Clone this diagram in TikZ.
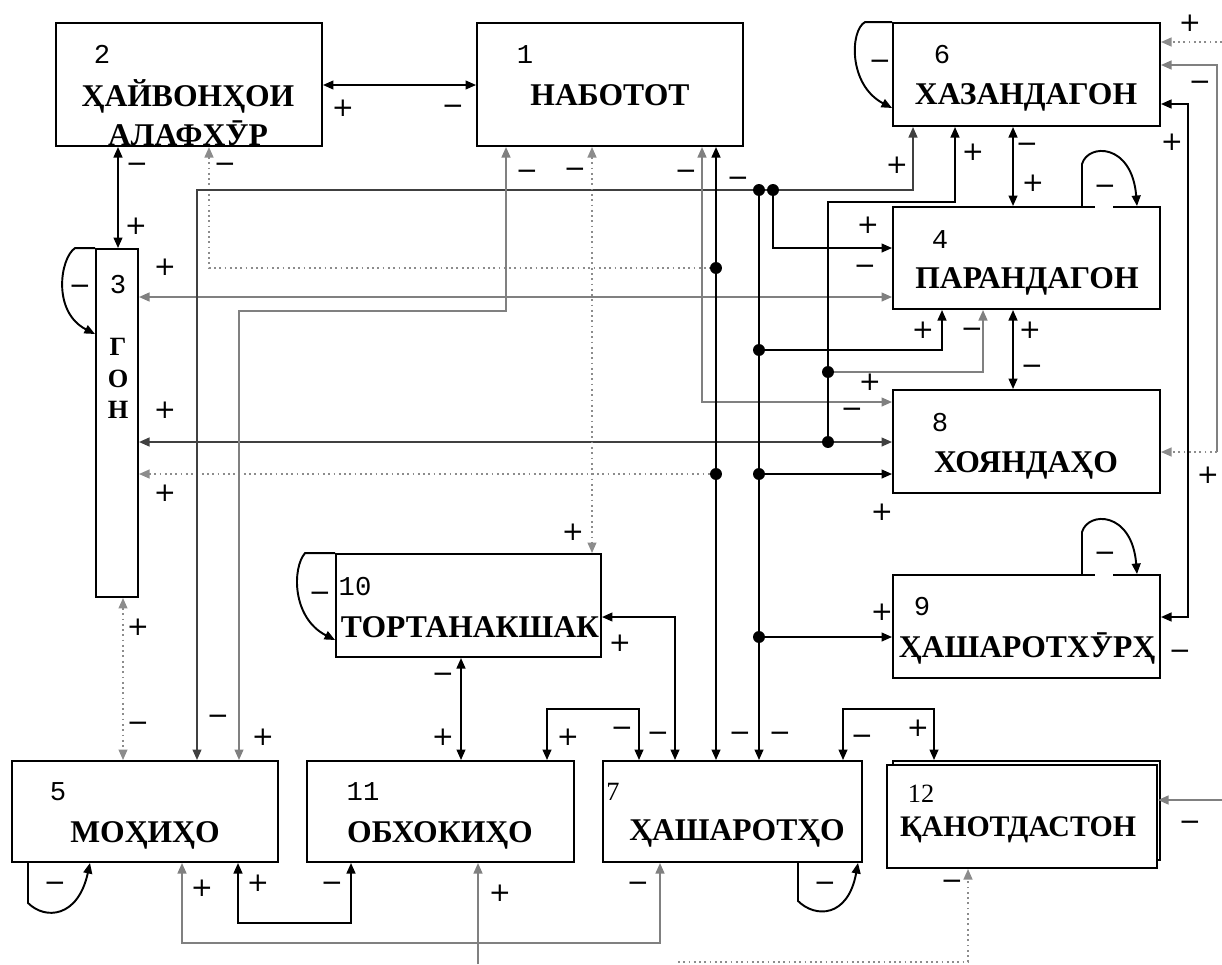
\documentclass[tikz,border=0pt]{standalone}
\usepackage{fontspec}
\setmainfont{Liberation Serif}
\newfontfamily\numfont{Liberation Mono}
\newfontfamily\sgnfont{DejaVu Sans}
\usetikzlibrary{arrows.meta}

\begin{document}
\begin{tikzpicture}[x=0.02cm, y=-0.02cm, >={Triangle[length=6pt,width=5pt]},
    box/.style={draw, line width=1.1pt, fill=white, inner sep=0pt, minimum width=5.32cm, minimum height=2.04cm},
    ttl/.style={font=\bfseries\fontsize{18}{20}\selectfont, anchor=base, inner sep=0pt},
    num/.style={font=\numfont\fontsize{15.5}{16}\selectfont, anchor=base, inner sep=0pt},
    sgn/.style={font=\sgnfont\fontsize{15}{15}\selectfont, inner sep=0pt},
    ln/.style={line width=1.1pt},
    gry/.style={draw=black!50},
    dotl/.style={draw=black!45, dotted, line width=1pt}]
    \useasboundingbox (0,0) rectangle (1222,964);

    % Блокҳо
    \node[box, minimum height=2.46cm] (b2) at (189,84.5) {};
    \node[box, minimum height=2.46cm] (b1) at (610,84.5) {};
    \node[box, minimum width=5.34cm, minimum height=2.06cm] (b6) at (1026.5,74.5) {};
    \node[box, minimum width=5.34cm] (b4) at (1026.5,258) {};
    \node[box, minimum width=5.34cm, minimum height=2.06cm] (b8) at (1026.5,441.5) {};
    \node[box, minimum width=5.34cm, minimum height=2.06cm] (b9) at (1026.5,626.5) {};
    \node[box, minimum width=0.84cm, minimum height=6.96cm] (b3) at (117,423) {};
    \node[box, minimum width=5.30cm, minimum height=2.06cm] (b10) at (468.5,605.5) {};
    \node[box, minimum height=2.02cm] (b5) at (145,811.5) {};
    \node[box, minimum width=5.34cm, minimum height=2.02cm] (b11) at (440.5,811.5) {};
    \node[box, minimum width=5.18cm, minimum height=2.02cm] (b7) at (732.5,811.5) {};
    \node[box, minimum width=5.34cm, minimum height=1.98cm] (b12s) at (1026.5,810.5) {};
    \node[box, minimum width=5.40cm, minimum height=2.06cm] (b12) at (1022,816.5) {};

    % Матнҳо
    \node[num] (n2) at (102,63) {2};
    \node[ttl] (t2a) at (188,106) {ҲАЙВОНҲОИ};
    \node[ttl] (t2b) at (188,145) {АЛАФХӮР};
    \node[num] (n1) at (525,63) {1};
    \node[ttl] (t1) at (610,105) {НАБОТОТ};
    \node[num] (n6) at (942,63) {6};
    \node[ttl] (t6) at (1026,104) {ХАЗАНДАГОН};
    \node[num] (n4) at (940,248) {4};
    \node[ttl] (t4) at (1027,288) {ПАРАНДАГОН};
    \node[num] (n8) at (940,431) {8};
    \node[ttl] (t8) at (1026,472) {ХОЯНДАҲО};
    \node[num] (n9) at (922,615) {9};
    \node[ttl] (t9) at (1027,657) {ҲАШАРОТХӮРҲ};
    \node[num] (n3) at (118,293) {3};
    \node[ttl, font=\bfseries\fontsize{15}{16}\selectfont] (t3a) at (118,355) {Г};
    \node[ttl, font=\bfseries\fontsize{15}{16}\selectfont] (t3b) at (118,387) {О};
    \node[ttl, font=\bfseries\fontsize{15}{16}\selectfont] (t3c) at (118,418) {Н};
    \node[num] (n10) at (355,595) {10};
    \node[ttl] (t10) at (470,637) {ТОРТАНАКШАК};
    \node[num] (n5) at (58,800) {5};
    \node[ttl] (t5) at (145,842) {МОҲИҲО};
    \node[num] (n11) at (363,800) {11};
    \node[ttl] (t11) at (440,842) {ОБХОКИҲО};
    \node[ttl, font=\fontsize{15}{16}\selectfont] (n7) at (613,800) {7};
    \node[ttl] (t7) at (737,840) {ҲАШАРОТҲО};
    \node[ttl, font=\fontsize{15}{16}\selectfont] (n12) at (921,802) {12};
    \node[ttl, font=\bfseries\fontsize{17}{18}\selectfont] (t12) at (1018,836) {ҚАНОТДАСТОН};

    % Нуқтаҳои пайвастшавӣ
    \coordinate (ja) at (759,190);
    \coordinate (jb) at (773,190);
    \coordinate (jc) at (716,268);
    \coordinate (jd) at (759,350);
    \coordinate (je) at (828,372);
    \coordinate (jf) at (828,442);
    \coordinate (jg) at (716,474);
    \coordinate (jh) at (759,474);
    \coordinate (ji) at (759,637);
    \coordinate (in6) at (1222,42);
    \coordinate (in12) at (1222,800);
    \coordinate (in11) at (478,964);
    \coordinate (in12b) at (678,962);

    % Робитаҳо
    \draw[ln,<->] (b2.east |- 0,85) -- (b1.west |- 0,85);
    \draw[ln,<->] (b2.south -| 118,0) -- (b3.north -| 118,0);
    \draw[dotl,<-] (b2.south -| 209,0) |- (jc);
    \draw[ln,gry,<->] (b3.east |- 0,297) -- (b4.west |- 0,297);
    \draw[ln,draw=black!75,<->] (b3.east |- 0,442) -- (b8.west |- 0,442);
    \draw[dotl,<-] (b3.east |- 0,474) -- (jg);
    \draw[dotl,<->] (b3.south -| 123,0) -- (b5.north -| 123,0);
    \draw[ln,draw=black!75,<->] (b6.south -| 913,0) |- (197,190) -- (b5.north -| 197,0);
    \draw[ln,gry,<->] (b1.south -| 506,0) |- (239,311) -- (b5.north -| 239,0);
    \draw[dotl,<->] (b1.south -| 592,0) -- (b10.north -| 592,0);
    \draw[ln,gry,<->] (b1.south -| 702,0) |- (b8.west |- 0,402);
    \draw[ln,<->] (b1.south -| 716,0) -- (b7.north -| 716,0);
    \draw[ln,->] (ja) -- (b7.north -| 759,0);
    \draw[ln,->] (jb) |- (b4.west |- 0,248);
    \draw[ln,->] (jd) -| (b4.south -| 942,0);
    \draw[ln,->] (jf) |- (955,202) -- (b6.south -| 955,0);
    \draw[ln,gry,->] (je) -| (b4.south -| 983,0);
    \draw[ln,->] (jh) -- (b8.west |- 0,474);
    \draw[ln,->] (ji) -- (b9.west |- 0,637);
    \draw[ln,<->] (b6.south -| 1013,0) -- (b4.north -| 1013,0);
    \draw[ln,<->] (b4.south -| 1013,0) -- (b8.north -| 1013,0);
    \draw[ln,<->] (b10.south -| 461,0) -- (b11.north -| 461,0);
    \draw[ln,<->] (b10.east |- 0,617) -| (b7.north -| 675,0);
    \draw[ln,<->] (b11.north -| 547,0) |- (639,709) -- (b7.north -| 639,0);
    \draw[ln,<->] (b7.north -| 843,0) |- (934,709) -- (b12s.north -| 934,0);
    \draw[ln,gry,<->] (b5.south -| 182,0) |- (660,943) -- (b7.south -| 660,0);
    \draw[ln,<->] (b5.south -| 238,0) |- (351,923) -- (b11.south -| 351,0);
    \draw[ln,gry,->] (in11) -- (b11.south -| 478,0);
    \draw[dotl,->] (in12b) -| (b12.south -| 968,0);
    \draw[dotl,->] (in6) -- (b6.east |- 0,42);
    \draw[ln,gry,<-] (b6.east |- 0,65) -| (1217,452);
    \draw[dotl,->] (1217,452) -- (b8.east |- 0,452);
    \draw[ln,<->] (b6.east |- 0,104) -| (1188,617) -- (b9.east |- 0,617);
    \draw[ln,gry,->] (in12) -- (b12.east |- 0,800);
    \foreach \j in {ja,jb,jc,jd,je,jf,jg,jh,ji}
        \fill (\j) circle (3.4pt);

    % Ҳалқаҳои худӣ
    \draw[ln,->] (b6.north west) -- ++(-27,0) .. controls (850,30) and (848,85) .. (b6.west |- 0,108);
    \draw[ln,->] (b3.north west) -- ++(-20,0) .. controls (60,258) and (52,312) .. (b3.west |- 0,334);
    \draw[ln,->] (b10.north west) -- ++(-30,0) .. controls (292,568) and (292,618) .. (b10.west |- 0,640);
    \draw[ln,->] (b4.north -| 1082,0) -- ++(0,-42) .. controls (1088,143) and (1132,143) .. (b4.north -| 1137,0);
    \draw[ln,->] (b9.north -| 1082,0) -- ++(0,-42) .. controls (1088,511) and (1132,511) .. (b9.north -| 1137,0);
    \draw[ln,->] (b5.south -| 28,0) -- ++(0,40) .. controls (45,920) and (78,918) .. (b5.south -| 90,0);
    \draw[ln,->] (b7.south -| 798,0) -- ++(0,38) .. controls (815,918) and (848,918) .. (b7.south -| 858,0);
    \fill[white] (1095,204) rectangle (1113,210);
    \fill[white] (1095,572) rectangle (1113,578);

    % Аломатҳо
    \foreach \x/\y [count=\i] in {343/108, 136/226, 165/267, 165/410, 165/493, 138/627, 263/737,
        573/532, 620/643, 443/737, 568/737, 918/728, 202/888, 258/883, 500/893, 882/612,
        882/512, 1208/475, 870/382, 923/330, 1030/330, 897/165, 973/152, 1033/183, 868/225,
        1172/142, 1190/23}
        \node[sgn] (p\i) at (\x,\y) {+};
    \foreach \x/\y [count=\i] in {453/110, 137/168, 225/168, 80/290, 138/727, 218/720, 527/175,
        575/173, 686/175, 738/182, 320/597, 443/678, 622/732, 658/737, 740/737, 780/737,
        862/740, 55/887, 332/887, 638/887, 825/887, 952/885, 1190/826, 1180/655, 1105/557,
        852/413, 972/333, 1032/370, 1027/148, 1105/190, 865/270, 1200/86, 880/65}
        \node[sgn] (m\i) at (\x,\y) {−};
\end{tikzpicture}
\end{document}
